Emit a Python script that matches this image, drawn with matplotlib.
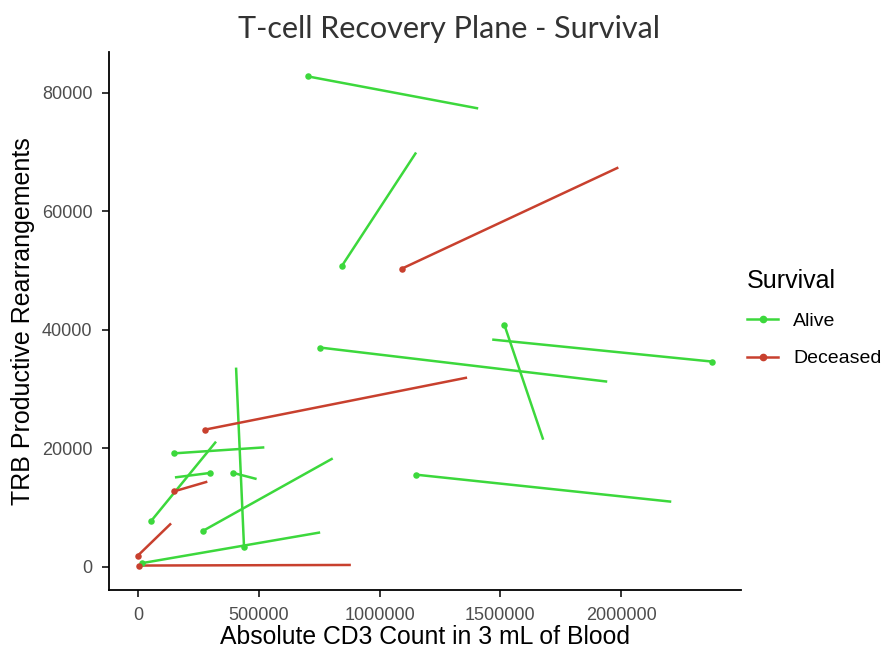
import matplotlib.pyplot as plt

# each trajectory: start (dot) -> end
alive_x0 = [704000, 845000, 754000, 2377000, 1516000, 1151000, 149000, 53000, 298000, 395000, 439000, 270000, 18000]
alive_y0 = [82770, 50850, 37000, 34630, 40880, 15540, 19140, 7650, 15830, 15830, 3260, 6080, 620]
alive_x1 = [1408000, 1151000, 1942000, 1466000, 1677000, 2207000, 523000, 323000, 153000, 491000, 406000, 806000, 754000]
alive_y1 = [77370, 69930, 31250, 38350, 21450, 10980, 20150, 21120, 15080, 14810, 33620, 18290, 5790]

dead_x0 = [1093000, 277000, 149000, -1000, 4000]
dead_y0 = [50340, 23140, 12720, 1860, 200]
dead_x1 = [1988000, 1362000, 287000, 137000, 881000]
dead_y1 = [67400, 31930, 14360, 7310, 300]

GREEN = "#3CD83C"
RED = "#C8402E"

fig = plt.figure(figsize=(8.89, 6.49), dpi=100)
ax = fig.add_axes([0.1226, 0.0909, 0.711, 0.829])

for xs0, ys0, xs1, ys1, col, lab in [
    (alive_x0, alive_y0, alive_x1, alive_y1, GREEN, "Alive"),
    (dead_x0, dead_y0, dead_x1, dead_y1, RED, "Deceased"),
]:
    for a, b, c, d in zip(xs0, ys0, xs1, ys1):
        ax.plot([a, c], [b, d], color=col, lw=1.8, solid_capstyle="butt")
    ax.scatter(xs0, ys0, color=col, s=22, zorder=3, linewidths=0)
    ax.plot([], [], color=col, lw=1.8, marker="o", ms=4.5, label=lab)

ax.margins(0.05)
ax.set_xticks([0, 500000, 1000000, 1500000, 2000000])
ax.set_xticklabels(["0", "500000", "1000000", "1500000", "2000000"])
ax.set_yticks([0, 20000, 40000, 60000, 80000])
ax.set_yticklabels(["0", "20000", "40000", "60000", "80000"])

for s in ["top", "right"]:
    ax.spines[s].set_visible(False)
for s in ["left", "bottom"]:
    ax.spines[s].set_linewidth(1.3)
ax.tick_params(colors="#4D4D4D", labelsize=13, length=5, width=1.1, direction="out", pad=7)
ax.tick_params(axis="both", color="black")
for lbl in ax.get_xticklabels() + ax.get_yticklabels():
    lbl.set_family("Liberation Sans")

ax.set_xlabel("Absolute CD3 Count in 3 mL of Blood", fontsize=17.8, family="Liberation Sans", labelpad=1)
ax.set_ylabel("TRB Productive Rearrangements", fontsize=18, family="Liberation Sans", labelpad=5)
fig.suptitle("T-cell Recovery Plane - Survival", x=0.505, y=0.977, fontsize=22, family="Lato", color="#333333")

leg = ax.legend(title="Survival", loc="center left", bbox_to_anchor=(0.982, 0.505), frameon=False,
                prop={"family": "Liberation Sans", "size": 14}, handlelength=1.6,
                labelspacing=1.0, handletextpad=0.75, borderpad=0.4)
leg.get_title().set_fontsize(18)
leg.get_title().set_family("Liberation Sans")
leg._legend_box.align = "left"

fig.savefig("out.png", dpi=100)
